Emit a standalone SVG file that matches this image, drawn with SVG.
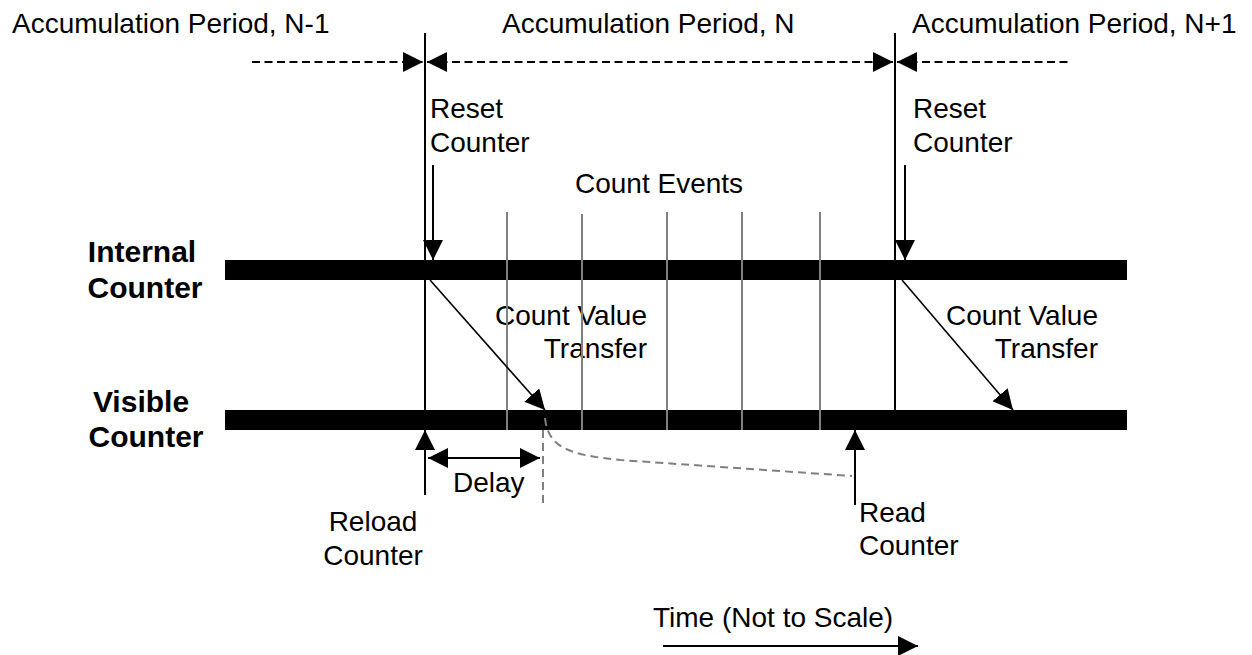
<svg xmlns="http://www.w3.org/2000/svg" width="1252" height="655" viewBox="0 0 1252 655">
<style>
text{font-family:"Liberation Sans",Arial,sans-serif;font-size:28px;fill:#000}
.b{font-weight:bold;font-size:30px;text-anchor:middle}
.e{text-anchor:end}
.m{text-anchor:middle}
.ln{stroke:#000;stroke-width:2;fill:none}
.th{stroke:#000;stroke-width:1.6;fill:none}
.ds{stroke:#000;stroke-width:2;stroke-dasharray:8 4.5;fill:none}
.ev{stroke:#808080;stroke-width:2;fill:none}
.gd{stroke:#808080;stroke-width:2;stroke-dasharray:8 5;fill:none}
.bar{fill:#000}
</style>
<defs>
<marker id="ah" markerUnits="userSpaceOnUse" markerWidth="20" markerHeight="20" refX="20" refY="10" orient="auto"><path d="M0,0 L20,10 L0,20 z" fill="#000"/></marker>
<marker id="as" markerUnits="userSpaceOnUse" markerWidth="20" markerHeight="20" refX="0" refY="10" orient="auto"><path d="M20,0 L0,10 L20,20 z" fill="#000"/></marker>
</defs>
<g id="headers">
<text x="12" y="33">Accumulation Period, N-1</text>
<text x="502" y="33">Accumulation Period, N</text>
<text x="912" y="33">Accumulation Period, N+1</text>
</g>
<g id="internal-counter">
<rect class="bar" x="225" y="260" width="902" height="20"/>
<text class="b" x="142" y="262">Internal</text>
<text class="b" x="145" y="298">Counter</text>
</g>
<g id="visible-counter">
<rect class="bar" x="225" y="410" width="902" height="20"/>
<text class="b" x="141" y="412">Visible</text>
<text class="b" x="146" y="447">Counter</text>
</g>
<g id="labels">
<text x="430" y="118">Reset</text>
<text x="430" y="152">Counter</text>
<text x="913" y="118">Reset</text>
<text x="913" y="152">Counter</text>
<text x="575" y="193">Count Events</text>
<text class="e" x="647" y="325">Count Value</text>
<text class="e" x="647" y="358">Transfer</text>
<text class="e" x="1098" y="325">Count Value</text>
<text class="e" x="1098" y="358">Transfer</text>
<text x="453" y="492">Delay</text>
<text class="m" x="373" y="531">Reload</text>
<text class="m" x="373" y="565">Counter</text>
<text x="859" y="522">Read</text>
<text x="859" y="555">Counter</text>
<text x="653" y="627">Time (Not to Scale)</text>
</g>
<g id="connectors">
<line class="ln" x1="425" y1="33" x2="425" y2="430"/>
<line class="ln" x1="895" y1="33" x2="895" y2="410"/>
<line class="ds" x1="252" y1="62" x2="423" y2="62" marker-end="url(#ah)"/>
<line class="ds" x1="427" y1="62" x2="893" y2="62" marker-start="url(#as)" marker-end="url(#ah)"/>
<line class="ds" x1="897" y1="62" x2="1070" y2="62" marker-start="url(#as)"/>
<line class="ln" x1="433" y1="165" x2="433" y2="260" marker-end="url(#ah)"/>
<line class="ln" x1="905" y1="165" x2="905" y2="260" marker-end="url(#ah)"/>
<line class="ev" x1="507" y1="212" x2="507" y2="430"/>
<line class="ev" x1="582" y1="214" x2="582" y2="430"/>
<line class="ev" x1="667" y1="212" x2="667" y2="430"/>
<line class="ev" x1="742" y1="212" x2="742" y2="430"/>
<line class="ev" x1="820" y1="212" x2="820" y2="430"/>
<line class="th" x1="430" y1="280" x2="545" y2="410" marker-end="url(#ah)"/>
<line class="th" x1="902" y1="280" x2="1013" y2="410" marker-end="url(#ah)"/>
<line class="ln" x1="425" y1="495" x2="425" y2="430" marker-end="url(#ah)"/>
<line class="ln" x1="428" y1="458" x2="540" y2="458" marker-start="url(#as)" marker-end="url(#ah)"/>
<line class="gd" x1="543" y1="430" x2="543" y2="503"/>
<path class="gd" d="M545,418 C548,448 570,455 620,460 L852,476"/>
<line class="ln" x1="855" y1="505" x2="855" y2="430" marker-end="url(#ah)"/>
<line class="ln" x1="663" y1="646" x2="918" y2="646" marker-end="url(#ah)"/>
</g>
</svg>
